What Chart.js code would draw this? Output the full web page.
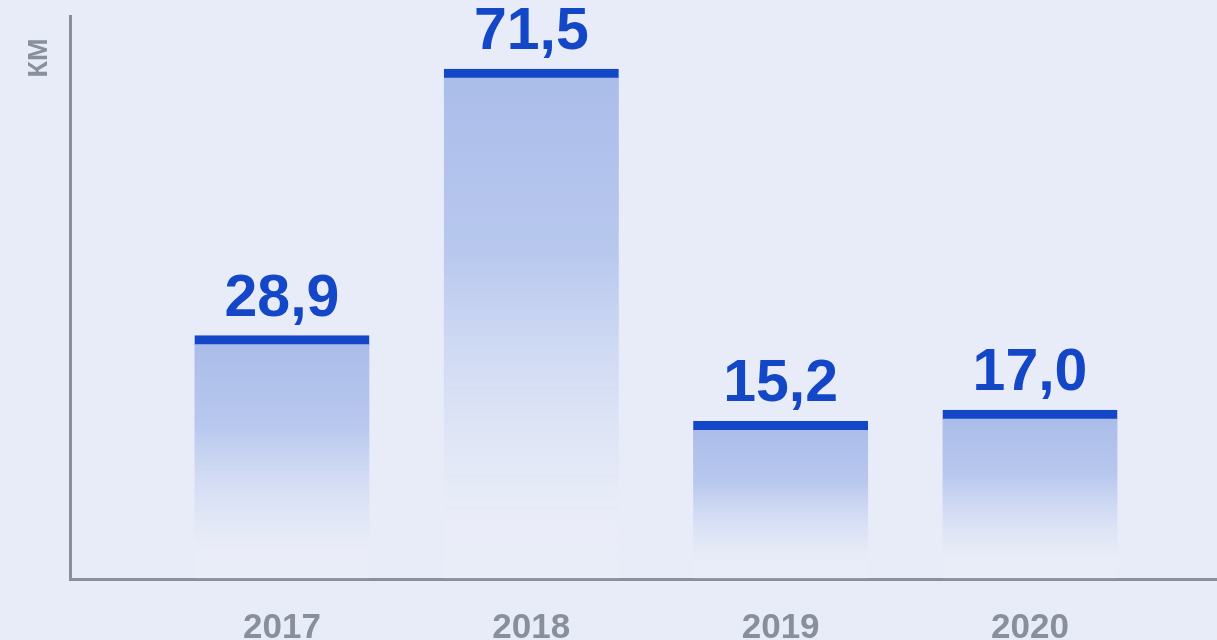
<!DOCTYPE html>
<html>
<head>
<meta charset="utf-8">
<script src="https://cdn.jsdelivr.net/npm/chart.js@4/dist/chart.umd.min.js"></script>
<style>
  html, body { margin: 0; padding: 0; background: #e8ecf8; }
  #wrap { width: 1217px; height: 640px; }
</style>
</head>
<body>
<div id="wrap"><canvas id="c" width="1217" height="640"></canvas></div>
<script>
// ---- data ----
const YEARS = [2017, 2018, 2019, 2020];
const VALUES = [28.9, 71.5, 15.2, 17.0];
const UNIT_LABEL = 'КМ';
const Y_MIN = -10;
const Y_MAX = 80;
const X_MIN = 2016.15;
const X_MAX = 2020.75;

const BLUE = '#1447c8';
const GRAY = '#87909b';

function fmt(v) { return v.toFixed(1).replace('.', ','); }

const points = YEARS.map((yr, i) => ({ x: yr, y: VALUES[i] }));

const valueLabels = {
  id: 'valueLabels',
  afterDatasetsDraw(chart) {
    const ctx = chart.ctx;
    const meta = chart.getDatasetMeta(0);
    ctx.save();
    ctx.font = 'bold 59px "Liberation Sans", Arial, sans-serif';
    ctx.fillStyle = BLUE;
    ctx.textAlign = 'center';
    ctx.textBaseline = 'alphabetic';
    meta.data.forEach((el, i) => {
      ctx.fillText(fmt(VALUES[i]), el.x, el.y - 20);
    });
    ctx.restore();
  }
};

const unitTitle = {
  id: 'unitTitle',
  afterDraw(chart) {
    const ctx = chart.ctx;
    ctx.save();
    ctx.translate(40, 58);
    ctx.rotate(-Math.PI / 2);
    ctx.font = 'bold 27px "Liberation Sans", Arial, sans-serif';
    ctx.fillStyle = GRAY;
    ctx.textAlign = 'center';
    ctx.textBaseline = 'middle';
    ctx.fillText(UNIT_LABEL, 0, 0);
    ctx.restore();
  }
};

function barFill(context) {
  const chart = context.chart;
  const ys = chart.scales && chart.scales.y;
  if (context.type !== 'data' || !ys || !context.raw) return 'rgba(172,190,234,0.9)';
  const top = ys.getPixelForValue(context.raw.y) + 9;
  const bottom = ys.getPixelForValue(Y_MIN);
  if (!isFinite(top) || !isFinite(bottom) || bottom <= top) return 'rgba(172,190,234,0.9)';
  const g = chart.ctx.createLinearGradient(0, top, 0, bottom);
  g.addColorStop(0, 'rgba(170,188,233,1)');
  g.addColorStop(0.35, 'rgba(175,193,236,0.85)');
  g.addColorStop(0.85, 'rgba(200,212,242,0)');
  g.addColorStop(0.87, 'rgba(244,246,252,0.15)');
  g.addColorStop(1, 'rgba(244,246,252,0.1)');
  return g;
}

new Chart(document.getElementById('c'), {
  type: 'bar',
  data: {
    datasets: [{
      data: points,
      base: Y_MIN,
      backgroundColor: barFill,
      borderColor: BLUE,
      borderWidth: { top: 9, left: 0, right: 0, bottom: 0 },
      borderSkipped: false,
      barThickness: 175
    }]
  },
  options: {
    responsive: false,
    animation: false,
    events: [],
    layout: { padding: { top: 16, right: 0, left: 0, bottom: 0 } },
    plugins: { legend: { display: false }, tooltip: { enabled: false } },
    scales: {
      x: {
        type: 'linear',
        offset: false,
        min: X_MIN,
        max: X_MAX,
        afterBuildTicks(scale) { scale.ticks = YEARS.map(v => ({ value: v })); },
        afterFit(scale) { scale.height = 61; },
        grid: { display: false, drawTicks: false, offset: false },
        border: { display: true, color: GRAY, width: 3 },
        ticks: {
          autoSkip: false,
          maxRotation: 0,
          padding: 28,
          color: GRAY,
          font: { family: '"Liberation Sans", Arial, sans-serif', size: 35, weight: 'bold' },
          callback: (v) => String(v)
        }
      },
      y: {
        min: Y_MIN,
        max: Y_MAX,
        afterFit(scale) { scale.width = 70; },
        grid: { display: false, drawTicks: false },
        border: { display: true, color: GRAY, width: 3 },
        ticks: { display: false }
      }
    }
  },
  plugins: [valueLabels, unitTitle]
});
</script>
</body>
</html>
